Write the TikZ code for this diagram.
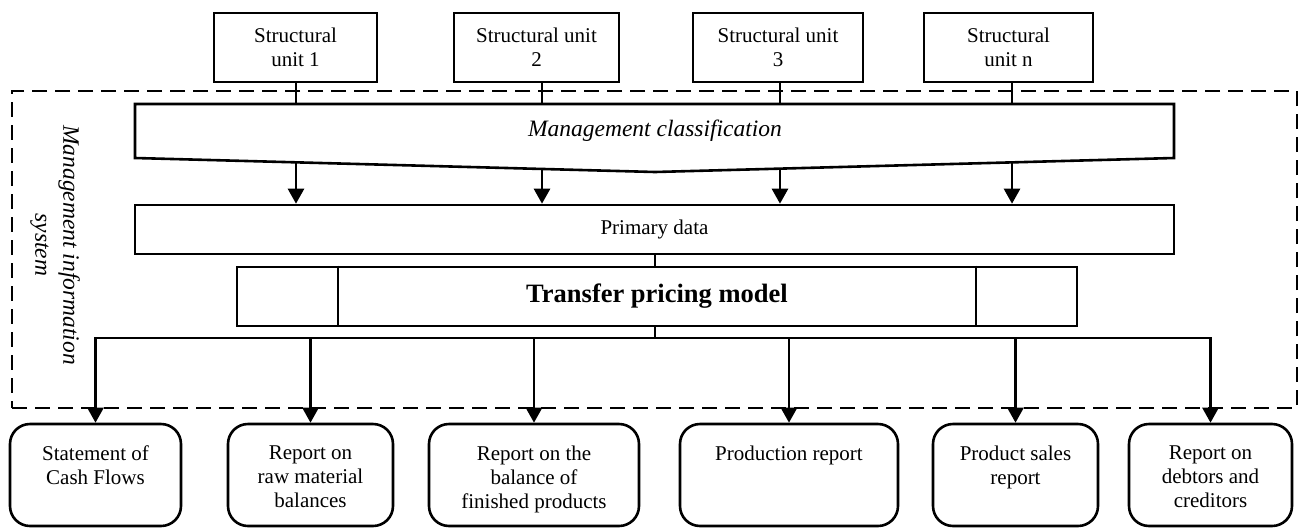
\documentclass[tikz,border=0pt]{standalone}
\usepackage{fontspec}
\setmainfont{Liberation Serif}
\usetikzlibrary{arrows.meta,calc}
\newcommand{\fsreg}{\fontsize{21}{24}\selectfont}
\newcommand{\fsit}{\fontsize{23.5}{28}\selectfont\itshape}
\newcommand{\fsbold}{\fontsize{26.5}{30}\selectfont\bfseries}
\begin{document}
\begin{tikzpicture}[x=1pt,y=-1pt,
  unitbox/.style={draw,line width=2.6pt,inner sep=0pt,align=center,font=\fsreg,minimum height=69pt},
  plainbox/.style={draw,line width=2.6pt,inner sep=0pt,align=center},
  repbox/.style={draw,line width=2.6pt,rounded corners=20pt,inner sep=0pt,minimum height=102pt},
  replabel/.style={anchor=north,inner sep=0pt,align=center,font=\fsreg},
  conn/.style={line width=2.6pt},
  arr/.style={line width=2.6pt,-{Triangle[width=16pt,length=15pt]}},
  misframe/.style={draw,line width=2.6pt,dash pattern=on 15pt off 8pt,inner sep=0pt},
]
\useasboundingbox (0,0) rectangle (1299,528);

% dashed frame of the information system
\node[misframe,minimum width=1285pt,minimum height=317pt] (mis) at (654.5,249.5) {};
\node[font=\fsit,rotate=-90,align=center] (mislabel) at (55,245) {Management information\\system};

% structural units
\node[unitbox,minimum width=163pt] (u1) at (295.5,47.5) {Structural\\unit 1};
\node[unitbox,minimum width=165pt] (u2) at (536.5,47.5) {Structural unit\\2};
\node[unitbox,minimum width=170pt] (u3) at (778,47.5) {Structural unit\\3};
\node[unitbox,minimum width=169pt] (un) at (1008.5,47.5) {Structural\\unit n};

% management classification shape
\coordinate (ctl) at (135,104);
\coordinate (ctr) at (1174,104);
\coordinate (cbr) at (1174,158);
\coordinate (cbv) at (655,172);
\coordinate (cbl) at (135,158);
\draw[conn,line join=miter] (ctl) -- (ctr) -- (cbr) -- (cbv) -- (cbl) -- cycle;
\node[font=\fsit] (cls) at (655,131) {Management classification};

\coordinate (t1) at (296,104);
\coordinate (t2) at (542,104);
\coordinate (t3) at (780,104);
\coordinate (t4) at (1012,104);
\draw[conn] (u1.south -| t1) -- (t1);
\draw[conn] (u2.south -| t2) -- (t2);
\draw[conn] (u3.south -| t3) -- (t3);
\draw[conn] (un.south -| t4) -- (t4);

% primary data
\node[plainbox,font=\fsreg,minimum width=1039pt,minimum height=49pt] (pd) at (654.5,229.5) {Primary data};

\coordinate (b1) at ($(cbl)!0.3096!(cbv)$);
\coordinate (b2) at ($(cbl)!0.7827!(cbv)$);
\coordinate (b3) at ($(cbv)!0.2408!(cbr)$);
\coordinate (b4) at ($(cbv)!0.6879!(cbr)$);
\draw[arr] (b1) -- (b1 |- pd.north);
\draw[arr] (b2) -- (b2 |- pd.north);
\draw[arr] (b3) -- (b3 |- pd.north);
\draw[arr] (b4) -- (b4 |- pd.north);

% transfer pricing model
\node[plainbox,font=\fsbold,minimum width=840pt,minimum height=59pt] (tp) at (657,296.5) {Transfer pricing model};
\coordinate (d1) at (338,296.5);
\coordinate (d2) at (976,296.5);
\draw[conn] (tp.north -| d1) -- (tp.south -| d1);
\draw[conn] (tp.north -| d2) -- (tp.south -| d2);

% report boxes
\node[repbox,minimum width=171pt] (r1) at (95.5,475) {};
\node[repbox,minimum width=165pt] (r2) at (310.5,475) {};
\node[repbox,minimum width=210pt] (r3) at (534,475) {};
\node[repbox,minimum width=218pt] (r4) at (789,475) {};
\node[repbox,minimum width=165pt] (r5) at (1015.5,475) {};
\node[repbox,minimum width=163pt] (r6) at (1210.5,475) {};

\node[replabel] (l1) at ([yshift=-23pt]r1.north) {Statement of\\Cash Flows};
\node[replabel] (l2) at ([yshift=-23pt]r2.north) {Report on\\raw material\\balances};
\node[replabel] (l3) at ([yshift=-23pt]r3.north) {Report on the\\balance of\\finished products};
\node[replabel] (l4) at ([yshift=-23pt]r4.north) {Production report};
\node[replabel] (l5) at ([yshift=-23pt]r5.north) {Product sales\\report};
\node[replabel] (l6) at ([yshift=-23pt]r6.north) {Report on\\debtors and\\creditors};

% connectors
\coordinate (bus) at (655,338);
\draw[conn] (pd.south -| bus) -- (tp.north -| bus);
\draw[conn] (tp.south -| bus) -- (bus);
\draw[conn,line join=miter,{Triangle[width=16pt,length=15pt]}-{Triangle[width=16pt,length=15pt]}]
  (r1.north) -- (r1.north |- bus) -- (r6.north |- bus) -- (r6.north);
\draw[arr] (r2.north |- bus) -- (r2.north);
\draw[arr] (r3.north |- bus) -- (r3.north);
\draw[arr] (r4.north |- bus) -- (r4.north);
\draw[arr] (r5.north |- bus) -- (r5.north);
\end{tikzpicture}
\end{document}
